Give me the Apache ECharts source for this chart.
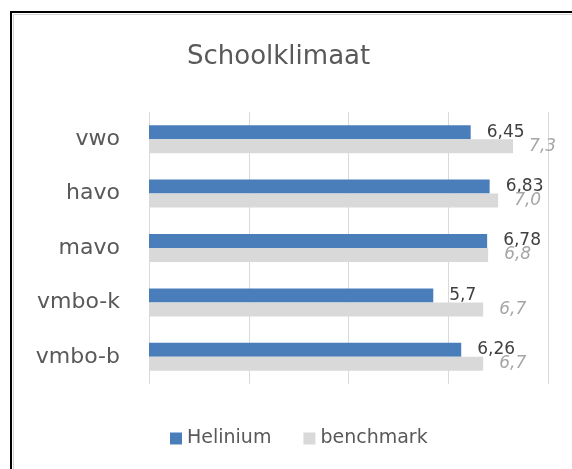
<!DOCTYPE html>
<html><head><meta charset="utf-8">
<script src="https://cdn.jsdelivr.net/npm/echarts@6/dist/echarts.min.js"></script>
<style>html,body{margin:0;padding:0;background:#fff}#c{width:572px;height:469px}</style>
</head><body><div id="c"></div>
<script>
const categories = ['vwo', 'havo', 'mavo', 'vmbo-k', 'vmbo-b'];
const helinium = [6.45, 6.83, 6.78, 5.7, 6.26];
const benchmark = [7.3, 7.0, 6.8, 6.7, 6.7];
const seriesNames = ['Helinium', 'benchmark'];
const titleText = 'Schoolklimaat';

const FONT = '"DejaVu Sans", sans-serif';
const chart = echarts.init(document.getElementById('c'));
chart.setOption({
  animation: false,
  textStyle: { fontFamily: FONT },
  title: {
    text: titleText, left: 182, top: 39, padding: 5,
    textStyle: { fontFamily: FONT, fontSize: 26, fontWeight: 'normal', color: '#595959' }
  },
  grid: { left: 149, right: 24, top: 112, bottom: 85 },
  xAxis: {
    type: 'value', min: 0, max: 8, interval: 2,
    axisLabel: { show: false }, axisLine: { show: false }, axisTick: { show: false },
    splitLine: { lineStyle: { color: '#d9d9d9', width: 1 } }
  },
  yAxis: {
    type: 'category', data: categories, inverse: true,
    axisLine: { show: false }, axisTick: { show: false },
    axisLabel: { fontFamily: FONT, fontSize: 22, color: '#595959', margin: 29 }
  },
  legend: {
    data: seriesNames, left: 165, top: 424, itemWidth: 12, itemHeight: 12, itemGap: 32,
    icon: 'rect',
    textStyle: { fontFamily: FONT, fontSize: 19, color: '#595959' }
  },
  series: [
    {
      name: seriesNames[0], type: 'bar', data: helinium, barWidth: 14, barGap: '0%',
      itemStyle: { color: '#4a7ebb' },
      label: {
        show: true, position: 'right', distance: 16,
        fontFamily: FONT, fontSize: 17, color: '#404040',
        formatter: p => String(p.value).replace('.', ',')
      }
    },
    {
      name: seriesNames[1], type: 'bar', data: benchmark, barWidth: 14, barGap: '0%',
      itemStyle: { color: '#d9d9d9' },
      label: {
        show: true, position: 'right', distance: 16,
        fontFamily: FONT, fontSize: 17, fontStyle: 'italic', color: '#a6a6a6',
        formatter: p => p.value.toFixed(1).replace('.', ',')
      }
    }
  ],
  graphic: [
    { type: 'rect', shape: { x: 11, y: 12, width: 700, height: 600 }, style: { fill: 'none', stroke: '#000', lineWidth: 2 }, silent: true },
    { type: 'rect', shape: { x: 13.5, y: 14.5, width: 700, height: 600 }, style: { fill: 'none', stroke: '#d4d4d4', lineWidth: 1 }, silent: true }
  ]
});
</script></body></html>
